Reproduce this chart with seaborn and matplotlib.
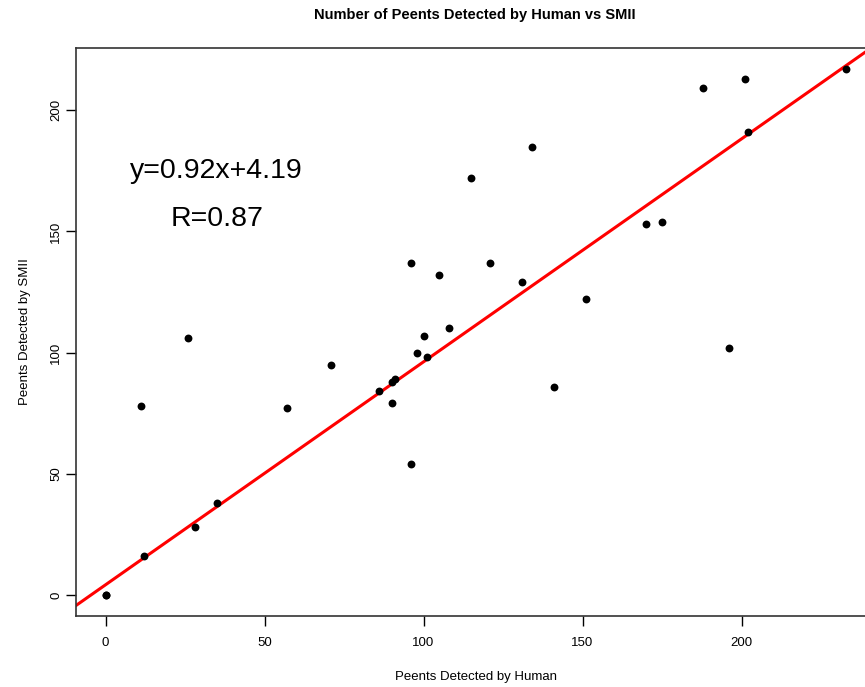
import numpy as np
import matplotlib
matplotlib.use("Agg")
import matplotlib.pyplot as plt
import pandas as pd
import seaborn as sns

# peents counted per recording: human listener vs SMII detector
human = [0, 0, 12, 11, 26, 28, 35, 57, 71, 86, 90, 91, 90, 96, 96, 98, 100,
         101, 105, 108, 115, 121, 131, 134, 141, 151, 170, 175, 188, 196,
         201, 202, 233]
smii = [0, 0, 16, 78, 106, 28, 38, 77, 95, 84, 88, 89, 79, 54, 137, 100, 107,
        98, 132, 110, 172, 137, 129, 185, 86, 122, 153, 154, 209, 102,
        213, 191, 217]

slope = 0.92
intercept = 4.19
r_value = 0.87

df = pd.DataFrame({"human": human, "smii": smii})

sns.set_style("ticks")
plt.rcParams["font.family"] = ["Liberation Sans", "DejaVu Sans"]
plt.rcParams["text.color"] = "black"
plt.rcParams["axes.labelcolor"] = "black"

fig = plt.figure(figsize=(8.65, 6.87), dpi=100)
ax = fig.add_axes([76 / 865, 71 / 687, 800 / 865, 568 / 687])

sns.scatterplot(data=df, x="human", y="smii", color="black", s=32,
                edgecolor="black", linewidth=0, ax=ax, zorder=3)
ax.axline((0, intercept), slope=slope, color="red", lw=2.2, zorder=2)

ax.set_xlim(-9.3, 242.3)
ax.set_ylim(-8.7, 225.7)
ax.set_xticks([0, 50, 100, 150, 200])
ax.set_yticks([0, 50, 100, 150, 200])
ax.tick_params(axis="both", direction="out", length=7, width=1,
               labelsize=9.5, colors="black")
ax.tick_params(axis="x", pad=8)
ax.tick_params(axis="y", pad=3)
plt.setp(ax.get_yticklabels(), rotation=90, va="center")
for s in ax.spines.values():
    s.set_visible(True)
    s.set_color("#333333")
    s.set_linewidth(1.2)

ax.text(35, 175, f"y={slope}x+{intercept}", fontsize=20.5, ha="center",
        va="center")
ax.text(35, 155, f"R={r_value}", fontsize=20.5, ha="center", va="center")

ax.set_xlabel("Peents Detected by Human", fontsize=9.5, labelpad=16)
ax.set_ylabel("Peents Detected by SMII", fontsize=9.5, labelpad=14)
fig.text(475 / 865, 1 - 15 / 687, "Number of Peents Detected by Human vs SMII",
         fontsize=10.5, fontweight="bold", ha="center", va="center")

fig.savefig("out.png", dpi=100)
